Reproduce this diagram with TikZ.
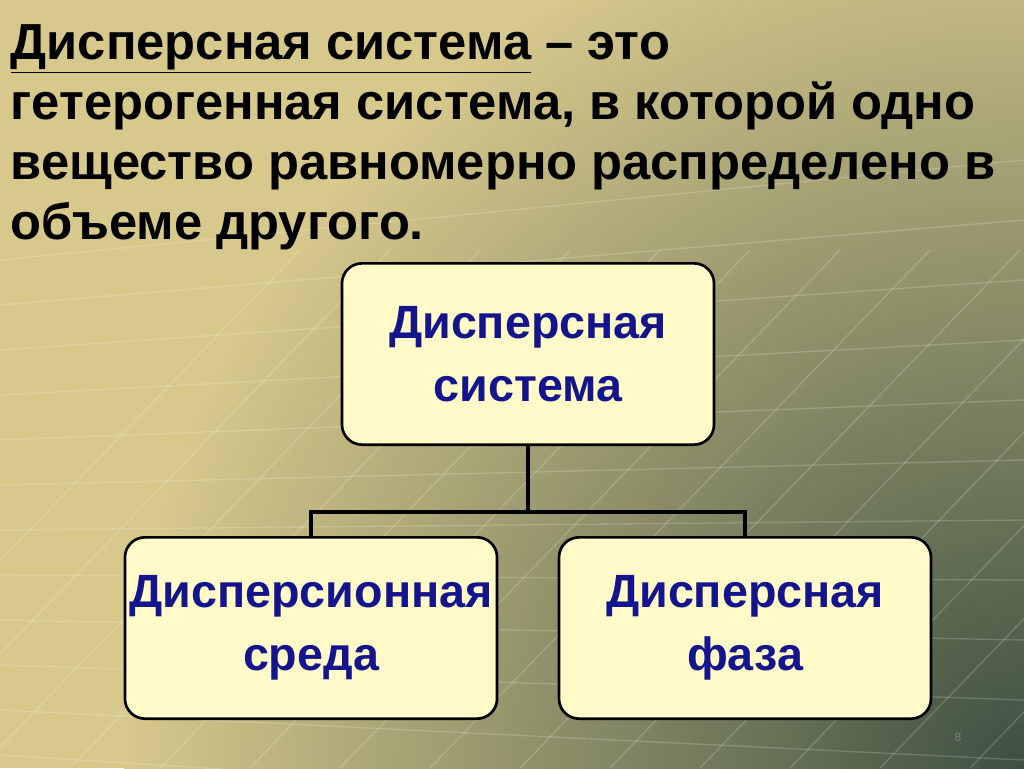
\documentclass[tikz,border=0pt]{standalone}
\usepackage{fontspec}
\setmainfont{Liberation Sans}
\usetikzlibrary{positioning}
\definecolor{boxfill}{RGB}{255,250,200}
\definecolor{boxtext}{RGB}{20,20,140}
\definecolor{bgA}{RGB}{215,200,140}
\definecolor{bgB}{RGB}{60,80,65}
\begin{document}
\begin{tikzpicture}[x=0.75pt,y=-0.75pt,
   box/.style={rectangle,draw,line width=2pt,rounded corners=15pt,fill=boxfill,
    minimum width=279pt,minimum height=136pt,align=center,
    text=boxtext,font=\fontsize{35}{47}\selectfont\bfseries},
   link/.style={line width=3pt}
    ]
  \useasboundingbox (0,0) rectangle (1024,768);
  % -- background
  \begin{scope}
  \clip (0,0) rectangle (1024,768);
  \fill[bgA] (0,0) rectangle (1024,768);
  \shade[inner color=bgB,outer color=bgA] (1024,768) circle[radius=900];
  \foreach \i in {0,...,14} {
    \draw[white,opacity=0.18,line width=1pt] (-200+\i*90,768) -- (300+\i*90,250);
    \draw[white,opacity=0.18,line width=1pt] (0,260+\i*45) -- (1024,160+\i*60);
  }
  \end{scope}
  % -- heading
  \node[anchor=north west,align=left,
    font=\fontsize{38}{45}\selectfont\bfseries] (head) at (6,20)
    {\underline{Дисперсная система} -- это\\гетерогенная система, в которой одно\\вещество равномерно распределено в\\объеме другого.};
  % -- boxes
  \node[box] at (528,354) (sys) {Дисперсная\\система};
  \node[box] at (311,628) (medium) {Дисперсионная\\среда};
  \node[box] at (745,628) (phase) {Дисперсная\\фаза};
  % -- links
  \coordinate (fork) at (528,512);
  \draw[link] (sys.south) -- (fork);
  \draw[link] (medium.north) |- (fork) -| (phase.north);
  \node[text=gray,font=\small] at (958,737) (page) {8};
\end{tikzpicture}
\end{document}
